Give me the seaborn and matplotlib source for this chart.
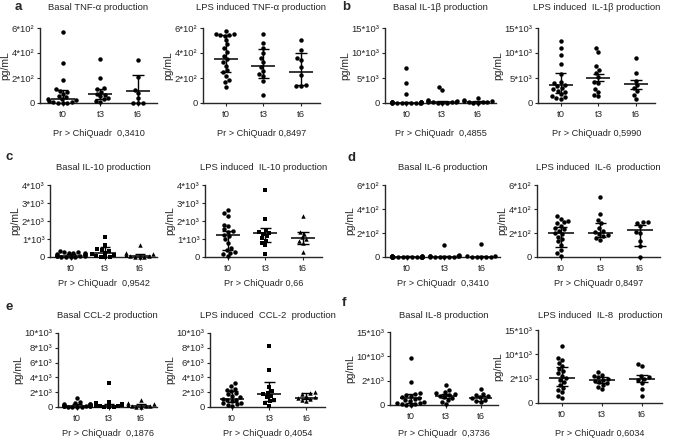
import warnings
import matplotlib
matplotlib.use("Agg")
import matplotlib.pyplot as plt
import numpy as np
import pandas as pd
import seaborn as sns

warnings.filterwarnings("ignore")

times = ["t0", "t3", "t6"]

# a - TNF-alpha (pg/mL)
tnf_basal = [[565, 320, 185, 110, 100, 90, 70, 60, 45, 35, 30, 25, 20, 10, 5, 0, 0, 0],
             [355, 200, 120, 110, 90, 75, 65, 55, 40, 30, 20, 5],
             [345, 210, 105, 80, 40, 0, 0, 0]]
tnf_basal_iqr = [(30, 0, 105), (75, 32, 115), (100, 0, 227)]
tnf_lps = [[575, 555, 550, 548, 545, 540, 505, 470, 440, 410, 380, 350, 330, 300, 265, 245, 215, 185, 165, 130],
           [550, 480, 440, 400, 360, 330, 290, 260, 230, 220, 180, 65],
           [505, 425, 360, 345, 290, 225, 145, 135, 135]]
tnf_lps_iqr = [(350, 245, 546), (298, 204, 430), (250, 148, 398)]

# b - IL-1beta
il1b_basal = [[7000, 4000, 1900, 300, 250, 200, 200, 150, 150, 100, 100, 100, 50, 50, 50, 0, 0, 0],
              [3200, 2600, 700, 500, 400, 300, 300, 200, 200, 100, 100, 50],
              [1100, 600, 500, 400, 300, 200, 150, 100, 50]]
il1b_basal_iqr = [(100, 0, 200), (300, 100, 400), (300, 100, 450)]
il1b_lps = [[12400, 11000, 9700, 7800, 5900, 4300, 4000, 3700, 3400, 3000, 2800, 2500, 2200, 1800, 1500, 1300, 1000, 900],
            [11000, 10200, 7400, 6700, 6000, 5200, 4300, 4000, 2800, 2300, 1700, 1400],
            [9100, 6000, 4500, 3600, 3000, 2400, 1700, 900]]
il1b_lps_iqr = [(3650, 2000, 6050), (5020, 4330, 5850), (3850, 2820, 4540)]

# c - IL-10
il10_basal = [[350, 300, 280, 250, 220, 200, 180, 150, 120, 100, 80, 60, 40, 30, 20, 10, 0, 0],
              [1130, 650, 470, 400, 350, 250, 180, 100, 50, 0, 0, 0],
              [650, 200, 150, 100, 50, 30, 0, 0, 0]]
il10_basal_iqr = [(80, 20, 150), (240, 0, 560), (50, 0, 150)]
il10_lps = [[2600, 2450, 2300, 1800, 1700, 1550, 1450, 1400, 1250, 1150, 1000, 800, 500, 400, 300, 250, 150, 50],
            [3700, 2100, 1500, 1400, 1350, 1300, 1150, 1050, 900, 800, 650, 150],
            [2300, 1400, 1300, 1100, 1000, 900, 800, 300]]
il10_lps_iqr = [(1220, 380, 1450), (1320, 850, 1600), (1030, 750, 1410)]

# d - IL-6
il6_basal = [[10, 8, 6, 5, 5, 4, 3, 3, 2, 2, 1, 1, 0, 0, 0, 0, 0, 0],
             [100, 15, 10, 8, 5, 5, 3, 2, 0, 0, 0, 0],
             [105, 10, 5, 3, 0, 0, 0, 0]]
il6_basal_iqr = [(2, 0, 5), (4, 0, 9), (3, 0, 8)]
il6_lps = [[340, 320, 300, 290, 280, 260, 240, 230, 220, 200, 190, 170, 150, 130, 100, 60, 30, 5],
           [500, 355, 310, 280, 245, 220, 205, 195, 185, 175, 160, 145],
           [295, 290, 285, 260, 210, 200, 130, 90, 0]]
il6_lps_iqr = [(198, 84, 254), (198, 165, 287), (223, 92, 268)]

# e - CCL-2
ccl2_basal = [[1200, 700, 550, 450, 400, 350, 300, 250, 200, 200, 150, 150, 100, 100, 50, 50, 0, 0],
              [3200, 700, 500, 400, 300, 250, 200, 150, 100, 50, 0, 0],
              [1000, 500, 400, 300, 200, 150, 100, 50, 0]]
ccl2_basal_iqr = [(150, 50, 350), (200, 50, 450), (200, 50, 400)]
ccl2_lps = [[3300, 2900, 2500, 2300, 2100, 1900, 1700, 1500, 1300, 1100, 1000, 900, 800, 600, 500, 400, 300, 200],
            [8200, 5000, 2700, 2200, 1900, 1700, 1500, 1300, 1000, 800, 500, 200],
            [2000, 1900, 1800, 1500, 1300, 1200, 1100, 900, 800]]
ccl2_lps_iqr = [(1140, 680, 2140), (1730, 820, 3410), (1270, 1140, 1950)]

# f - IL-8 (axis drawn on 0..15*10^3 scale)
il8_basal = [[9700, 4800, 2400, 2200, 2000, 1800, 1600, 1400, 1200, 1000, 900, 700, 500, 400, 300, 200, 100, 0],
             [4100, 3100, 2600, 2400, 2200, 2000, 1800, 1600, 1400, 1100, 700, 300],
             [3300, 2300, 2000, 1800, 1600, 1400, 1100, 900, 700]]
il8_basal_iqr = [(1380, 345, 2280), (1870, 1380, 2280), (1520, 900, 1940)]
il8_lps = [[11800, 9300, 8900, 8200, 7600, 7000, 6500, 6100, 5600, 5100, 4800, 4300, 3800, 3100, 2600, 2200, 1500, 1000],
           [6300, 5800, 5500, 5300, 5000, 4800, 4600, 4400, 4100, 3800, 3300, 2900],
           [8000, 7600, 5600, 5300, 5000, 4800, 4200, 2900, 1400]]
il8_lps_iqr = [(5110, 3410, 7500), (4640, 4090, 5320), (4980, 4300, 5660)]

ticks_6e2 = ([0, 200, 400, 600], ["0", "2*10²", "4*10²", "6*10²"])
ticks_15e3 = ([0, 5000, 10000, 15000], ["0", "5*10³", "10*10³", "15*10³"])
ticks_4e3 = ([0, 1000, 2000, 3000, 4000], ["0", "1*10³", "2*10³", "3*10³", "4*10³"])
ticks_10e3 = ([0, 2000, 4000, 6000, 8000, 10000], ["0", "2*10³", "4*10³", "6*10³", "8*10³", "10*10³"])
ticks_il8 = ([0, 5000, 10000, 15000], ["0", "2*10³", "10*10³", "15*10³"])

sns.set_style("ticks")
plt.rcParams["font.family"] = ["Liberation Sans", "DejaVu Sans"]

W, H = 675, 442
fig = plt.figure(figsize=(W / 100, H / 100), dpi=100)


def px_box(x0, x1, y0, y1):
    return [x0 / W, 1 - y1 / H, (x1 - x0) / W, (y1 - y0) / H]


def dot_plot(box, groups, iqr, ticks, title, pval, title_y, p_y, markers=("o", "o", "o")):
    ax = fig.add_axes(px_box(*box))
    rows = [(t, v) for t, g in zip(times, groups) for v in g]
    df = pd.DataFrame(rows, columns=["time", "value"])
    for t, m in zip(times, markers):
        sns.swarmplot(data=df[df["time"] == t], x="time", y="value", order=times,
                      marker=m, color="black", size=3.2, ax=ax, clip_on=False, zorder=3)
    # median with interquartile range
    for i, (med, lo, hi) in enumerate(iqr):
        ax.hlines(med, i - 0.32, i + 0.32, color="black", lw=1.1, zorder=4)
        ax.vlines(i, lo, hi, color="black", lw=1.0, zorder=4)
        ax.hlines([lo, hi], i - 0.15, i + 0.15, color="black", lw=1.0, zorder=4)
    ax.set_xlim(-0.6, 2.5)
    ax.set_ylim(0, ticks[0][-1])
    ax.set_yticks(ticks[0])
    ax.set_yticklabels(ticks[1], fontsize=6.8)
    ax.set_xticks(range(3))
    ax.set_xticklabels(times, fontsize=6.8)
    ax.tick_params(axis="y", length=2.5, width=0.8, pad=1.5)
    ax.tick_params(axis="x", length=2, width=0.8, pad=3)
    sns.despine(ax=ax)
    ax.spines["left"].set_linewidth(1)
    ax.spines["bottom"].set_linewidth(1)
    ax.set_xlabel("")
    ax.set_ylabel("pg/mL", fontsize=7.5, labelpad=1)
    cx = (box[0] + box[1]) / 2
    fig.text(cx / W, 1 - title_y / H, title, fontsize=6.8, ha="center", va="center")
    fig.text(cx / W, 1 - p_y / H, "Pr > ChiQuadr " + pval, fontsize=6.6, ha="center", va="center")
    return ax


mixed = ("o", "s", "^")

# row 1
dot_plot((40, 157, 28, 103), tnf_basal, tnf_basal_iqr, ticks_6e2, "Basal TNF-α production", " 0,3410", 8, 133)
dot_plot((203, 320, 28, 103), tnf_lps, tnf_lps_iqr, ticks_6e2, "LPS induced TNF-α production", "0,8497", 8, 133)
dot_plot((385, 496, 28, 103), il1b_basal, il1b_basal_iqr, ticks_15e3, "Basal IL-1β production", " 0,4855", 8, 133)
dot_plot((538, 655, 28, 103), il1b_lps, il1b_lps_iqr, ticks_15e3, "LPS induced  IL-1β production", "0,5990", 8, 133)

# row 2
dot_plot((50, 157, 185, 257), il10_basal, il10_basal_iqr, ticks_4e3, "Basal IL-10 production", " 0,9542", 167, 283, mixed)
dot_plot((205, 322, 185, 257), il10_lps, il10_lps_iqr, ticks_4e3, "LPS induced  IL-10 production", "0,66", 167, 283, mixed)
dot_plot((385, 500, 185, 257), il6_basal, il6_basal_iqr, ticks_6e2, "Basal IL-6 production", " 0,3410", 167, 283)
dot_plot((537, 660, 185, 257), il6_lps, il6_lps_iqr, ticks_6e2, "LPS induced  IL-6  production", "0,8497", 167, 283)

# row 3
dot_plot((58, 157, 333, 407), ccl2_basal, ccl2_basal_iqr, ticks_10e3, "Basal CCL-2 production", " 0,1876", 315, 433, mixed)
dot_plot((210, 325, 333, 407), ccl2_lps, ccl2_lps_iqr, ticks_10e3, "LPS induced  CCL-2  production", "0,4054", 315, 433, mixed)
dot_plot((390, 498, 332, 405), il8_basal, il8_basal_iqr, ticks_il8, "Basal IL-8 production", " 0,3736", 315, 433)
dot_plot((538, 662, 330, 403), il8_lps, il8_lps_iqr, ticks_il8, "LPS induced  IL-8  production", "0,6034", 315, 433)

# panel letters
for letter, x, y in [("a", 15, 7), ("b", 342, 7), ("c", 5, 157), ("d", 347, 158), ("e", 5, 307), ("f", 342, 303)]:
    fig.text(x / W, 1 - y / H, letter, fontsize=9.5, fontweight="bold", ha="left", va="center")

fig.savefig("out.png", dpi=100)
